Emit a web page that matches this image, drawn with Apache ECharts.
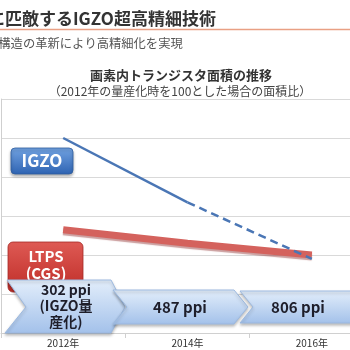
<!DOCTYPE html>
<html>
<head>
<meta charset="utf-8">
<script src="https://cdn.jsdelivr.net/npm/echarts@6/dist/echarts.min.js"></script>
<style>
html,body{margin:0;padding:0;background:#fff;}
#c{width:350px;height:350px;}
</style>
</head>
<body>
<div id="c"></div>
<script>
var categories = ['2012年', '2014年', '2016年'];
var igzoSolid = [100, 67, null];
var igzoDashed = [null, 67, 38];
var ltps = [53, 46, 40];
var ppiLabels = ['302 ppi\n(IGZO量\n産化)', '487 ppi', '806 ppi'];
var yTicks = [0, 20, 40, 60, 80, 100, 120];

var FONT = '"Noto Sans CJK JP", "Noto Sans", sans-serif';
var chart = echarts.init(document.getElementById('c'));

function chevron(points, z) {
  return {
    type: 'polygon', z: z,
    shape: { points: points },
    style: {
      fill: { type: 'linear', x: 0, y: 0, x2: 0, y2: 1,
        colorStops: [{ offset: 0, color: '#e3eefb' }, { offset: 1, color: '#a3c1ea' }] },
      stroke: '#9cb9e0', lineWidth: 1,
      shadowBlur: 3, shadowColor: 'rgba(0,0,0,0.25)', shadowOffsetY: 2
    }
  };
}

var option = {
  backgroundColor: '#ffffff',
  animation: false,
  grid: { left: 1, top: 99, width: 373, height: 234, containLabel: false, outerBoundsMode: 'none' },
  xAxis: {
    type: 'category', data: categories, boundaryGap: true,
    axisLine: { show: true, lineStyle: { color: '#d0d0d0' } },
    axisTick: { show: true, length: 5, lineStyle: { color: '#d0d0d0' } },
    axisLabel: { color: '#333', fontSize: 10, margin: 5, fontFamily: FONT }
  },
  yAxis: {
    type: 'value', min: yTicks[0], max: yTicks[yTicks.length - 1], interval: 20,
    axisLine: { show: true, lineStyle: { color: '#cfcfcf' } },
    axisTick: { show: false }, axisLabel: { show: false },
    splitLine: { show: true, lineStyle: { color: '#d9d9d9' } }
  },
  series: [
    { name: 'IGZO', type: 'line', data: igzoSolid, symbol: 'none', z: 3,
      lineStyle: { color: '#4a76b5', width: 2.5 } },
    { name: 'IGZO予測', type: 'line', data: igzoDashed, symbol: 'none', z: 3,
      lineStyle: { color: '#4a76b5', width: 2.5, type: [8, 5] } },
    { name: 'LTPS', type: 'line', data: ltps, symbol: 'none', z: 2,
      lineStyle: { color: '#d4625d', width: 7, shadowColor: 'rgba(140,40,40,0.45)', shadowOffsetY: 2, shadowBlur: 1 } }
  ],
  graphic: [
    { type: 'text', left: -12, top: 10, z: 5,
      style: { text: 'に匹敵するIGZO超高精細技術', font: 'bold 17px ' + FONT, fill: '#333' } },
    { type: 'line', z: 5, shape: { x1: 0, y1: 29.5, x2: 350, y2: 29.5 },
      style: { stroke: '#e9a084', lineWidth: 1.5 } },
    { type: 'text', left: -14, top: 37, z: 5,
      style: { text: 'タ構造の革新により高精細化を実現', font: '12.3px ' + FONT, fill: '#555' } },
    { type: 'text', x: 181, y: 75, z: 5,
      style: { text: '画素内トランジスタ面積の推移', font: 'bold 13px ' + FONT, fill: '#333', align: 'center', verticalAlign: 'middle' } },
    { type: 'text', x: 180, y: 91, z: 5,
      style: { text: '（2012年の量産化時を100とした場合の面積比）', font: '12px ' + FONT, fill: '#444', align: 'center', verticalAlign: 'middle' } },
    // IGZO badge
    { type: 'rect', z: 10, shape: { x: 11, y: 148, width: 62, height: 26, r: 4 },
      style: { fill: { type: 'linear', x: 0, y: 0, x2: 0, y2: 1,
        colorStops: [{ offset: 0, color: '#72a3e2' }, { offset: 1, color: '#2e63b2' }] },
        stroke: '#2f5d9e', lineWidth: 0.8, shadowBlur: 3, shadowColor: 'rgba(0,0,0,0.3)', shadowOffsetY: 2 } },
    { type: 'text', z: 11, x: 42, y: 161,
      style: { text: 'IGZO', font: 'bold 17px ' + FONT, fill: '#fff', align: 'center', verticalAlign: 'middle' } },
    // LTPS badge
    { type: 'rect', z: 10, shape: { x: 8, y: 242, width: 75, height: 50, r: 5 },
      style: { fill: { type: 'linear', x: 0, y: 0, x2: 0, y2: 1,
        colorStops: [{ offset: 0, color: '#de5a54' }, { offset: 1, color: '#bf2d28' }] },
        stroke: '#a52a26', lineWidth: 0.8 } },
    { type: 'text', z: 11, x: 46, y: 256,
      style: { text: 'LTPS', font: 'bold 15px ' + FONT, fill: '#fff', align: 'center', verticalAlign: 'middle' } },
    { type: 'text', z: 11, x: 46, y: 273,
      style: { text: '(CGS)', font: 'bold 15px ' + FONT, fill: '#fff', align: 'center', verticalAlign: 'middle' } },
    // chevrons
    chevron([[7, 280], [111, 280], [125, 307], [111, 333], [5, 333], [26, 307]], 20),
    chevron([[113, 290], [234, 290], [248, 307], [234, 324], [113, 324], [127, 307]], 20),
    chevron([[240, 291], [360, 291], [372, 307], [360, 323], [240, 323], [253, 307]], 20),
    { type: 'text', z: 21, x: 66, y: 306,
      style: { text: ppiLabels[0], font: 'bold 14px ' + FONT, lineHeight: 16, fill: '#1e1e2a', align: 'center', verticalAlign: 'middle' } },
    { type: 'text', z: 21, x: 180, y: 307,
      style: { text: ppiLabels[1], font: 'bold 15px ' + FONT, fill: '#1e1e2a', align: 'center', verticalAlign: 'middle' } },
    { type: 'text', z: 21, x: 298, y: 307,
      style: { text: ppiLabels[2], font: 'bold 15px ' + FONT, fill: '#1e1e2a', align: 'center', verticalAlign: 'middle' } }
  ]
};
chart.setOption(option);
</script>
</body>
</html>
